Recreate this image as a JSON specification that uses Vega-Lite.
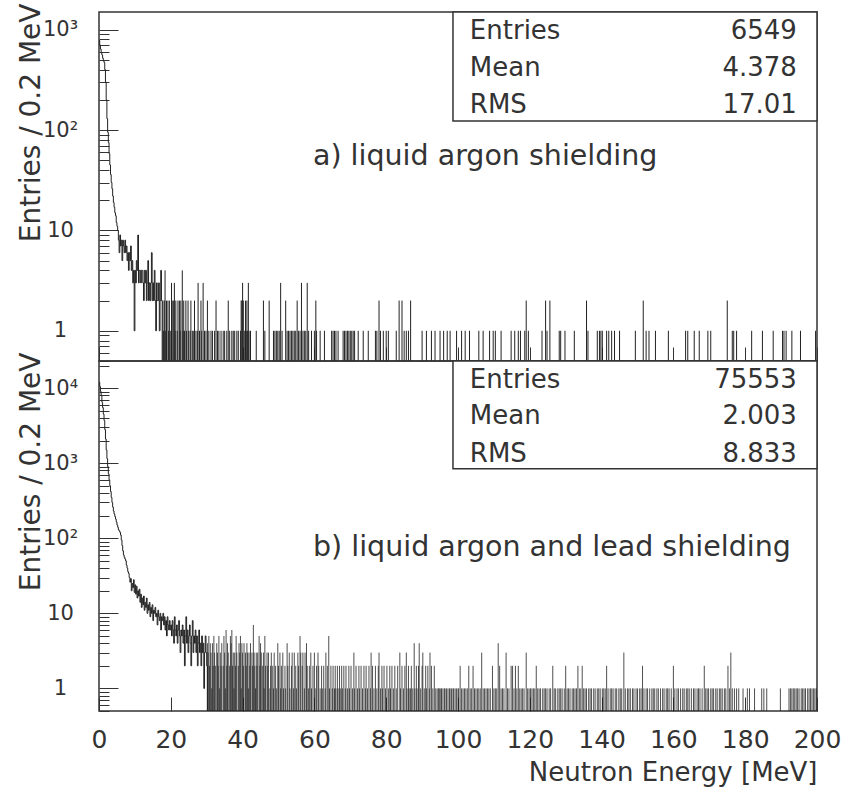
{
"$schema": "https://vega.github.io/schema/vega-lite/v6.json",
"background": "white",
"padding": {"left": 16, "top": 2, "right": 5, "bottom": 3},
"spacing": 0,
"bounds": "flush",
"config": {
 "view": {"stroke": "#333", "strokeWidth": 1.5},
 "concat": {"spacing": 0},
 "font": "DejaVu Sans",
 "axis": {"domain": false, "grid": false, "tickColor": "#333", "tickWidth": 1, "labelFont": "DejaVu Sans", "labelColor": "#333", "titleFont": "DejaVu Sans", "titleColor": "#333", "titleFontWeight": "normal", "labelFlush": false, "labelOverlap": false, "labelBound": false},
 "text": {"font": "DejaVu Sans", "color": "#333"}
},
"datasets": {
 "topStep": [
  {"e":0,"n":780},{"e":0.2,"n":700},{"e":0.4,"n":640},{"e":0.6,"n":590},{"e":0.8,"n":560},{"e":1.0,"n":520},{"e":1.2,"n":490},{"e":1.4,"n":470},{"e":1.6,"n":400},{"e":1.8,"n":300},
  {"e":2.0,"n":200},{"e":2.2,"n":130},{"e":2.4,"n":95},{"e":2.6,"n":75},{"e":2.8,"n":58},{"e":3.0,"n":45},{"e":3.2,"n":36},{"e":3.4,"n":30},{"e":3.6,"n":26},{"e":3.8,"n":22},
  {"e":4.0,"n":19},{"e":4.2,"n":17},{"e":4.4,"n":15},{"e":4.6,"n":14},{"e":4.8,"n":12},{"e":5.0,"n":11},{"e":5.2,"n":10},{"e":5.4,"n":8},{"e":5.6,"n":6},{"e":5.8,"n":9},
  {"e":6.0,"n":7},{"e":6.2,"n":8},{"e":6.4,"n":5},{"e":6.6,"n":8},{"e":6.8,"n":7},{"e":7.0,"n":6},{"e":7.2,"n":8},{"e":7.4,"n":6},{"e":7.6,"n":7},{"e":7.8,"n":5},
  {"e":8.0,"n":6},{"e":8.2,"n":4},{"e":8.4,"n":6},{"e":8.6,"n":5},{"e":8.8,"n":7},{"e":9.0,"n":4},{"e":9.2,"n":5},{"e":9.4,"n":3},{"e":9.6,"n":4},{"e":9.8,"n":1},
  {"e":10.0,"n":4},{"e":10.2,"n":3},{"e":10.4,"n":5},{"e":10.6,"n":4},{"e":10.8,"n":9},{"e":11.0,"n":3},{"e":11.2,"n":4},{"e":11.4,"n":4},{"e":11.6,"n":3},{"e":11.8,"n":4},
  {"e":12.0,"n":4},{"e":12.2,"n":3},{"e":12.4,"n":2},{"e":12.6,"n":4},{"e":12.8,"n":3},{"e":13.0,"n":4},{"e":13.2,"n":2},{"e":13.4,"n":3},{"e":13.6,"n":5},{"e":13.8,"n":2},
  {"e":14.0,"n":3},{"e":14.2,"n":2},{"e":14.4,"n":3},{"e":14.6,"n":6},{"e":14.8,"n":2},{"e":15.0,"n":3},{"e":15.2,"n":2},{"e":15.4,"n":4},{"e":15.6,"n":2},{"e":15.8,"n":1},
  {"e":16.0,"n":3},{"e":16.2,"n":2},{"e":16.4,"n":2},{"e":16.6,"n":3},{"e":16.8,"n":1},{"e":17.0,"n":2},{"e":17.2,"n":4},{"e":17.4,"n":2},{"e":17.6,"n":0}
 ],
 "topSpikes": [
  {"e":17.8,"n":2},{"e":18.0,"n":1},{"e":18.2,"n":2},{"e":18.4,"n":4},{"e":18.6,"n":1},{"e":18.8,"n":2},{"e":19.2,"n":2},{"e":19.4,"n":1},{"e":19.6,"n":2},{"e":20.0,"n":1},
  {"e":20.2,"n":3},{"e":20.4,"n":2},{"e":20.8,"n":2},{"e":21.0,"n":3},{"e":21.2,"n":1},{"e":21.4,"n":2},{"e":21.8,"n":1},{"e":22.0,"n":2},{"e":22.4,"n":2},{"e":22.6,"n":1},
  {"e":22.8,"n":2},{"e":23.2,"n":4},{"e":23.4,"n":1},{"e":23.6,"n":2},{"e":23.8,"n":1},{"e":24.2,"n":2},{"e":24.4,"n":1},{"e":24.8,"n":2},{"e":25.0,"n":1},{"e":25.4,"n":1},
  {"e":25.6,"n":2},{"e":26.0,"n":1},{"e":26.4,"n":1},{"e":26.6,"n":2},{"e":27.0,"n":1},{"e":27.4,"n":1},{"e":27.6,"n":3},{"e":28.0,"n":1},{"e":28.4,"n":2},{"e":28.6,"n":1},
  {"e":29.0,"n":3},{"e":29.4,"n":1},{"e":29.8,"n":1},{"e":30.2,"n":2},{"e":30.6,"n":1},
  {"e":31.2,"n":1},{"e":31.6,"n":1},{"e":32.2,"n":1},{"e":32.6,"n":2},{"e":33.0,"n":1},{"e":33.4,"n":1},{"e":34.0,"n":1},{"e":34.6,"n":1},{"e":35.0,"n":1},{"e":35.6,"n":1},
  {"e":36.0,"n":2},{"e":36.4,"n":1},{"e":37.0,"n":1},{"e":37.4,"n":1},{"e":37.8,"n":1},{"e":38.4,"n":1},{"e":38.8,"n":1},
  {"e":39.4,"n":1},{"e":39.6,"n":2},{"e":39.8,"n":2},{"e":40.0,"n":3},{"e":40.2,"n":2},{"e":40.6,"n":1},{"e":40.8,"n":2},{"e":41.0,"n":1},{"e":41.2,"n":2},{"e":41.4,"n":1},{"e":41.6,"n":3},{"e":41.8,"n":1},
  {"e":42.2,"n":1},{"e":43.8,"n":1},{"e":45.8,"n":2},{"e":46.2,"n":1},{"e":47.4,"n":2},{"e":48.6,"n":1},
  {"e":49.0,"n":1},{"e":49.4,"n":1},{"e":49.8,"n":1},{"e":50.2,"n":1},{"e":50.6,"n":3},{"e":51.0,"n":1},
  {"e":52.0,"n":2},{"e":52.4,"n":1},{"e":52.8,"n":1},{"e":53.2,"n":1},{"e":53.6,"n":1},{"e":54.0,"n":1},{"e":54.4,"n":1},{"e":54.8,"n":1},{"e":55.2,"n":2},{"e":55.6,"n":1},
  {"e":56.0,"n":1},{"e":56.4,"n":3},{"e":56.8,"n":1},{"e":57.2,"n":1},{"e":57.6,"n":1},{"e":58.0,"n":3},{"e":58.4,"n":1},{"e":59.2,"n":1},{"e":60.0,"n":1},{"e":60.4,"n":2},
  {"e":60.6,"n":1},{"e":61.6,"n":1},{"e":62.8,"n":1},
  {"e":64.8,"n":1},{"e":65.2,"n":1},{"e":65.6,"n":1},{"e":66.0,"n":1},{"e":66.6,"n":1},
  {"e":68.0,"n":1},{"e":68.4,"n":1},{"e":68.8,"n":1},{"e":69.2,"n":1},{"e":69.6,"n":1},{"e":70.0,"n":1},{"e":70.4,"n":1},{"e":70.8,"n":1},{"e":71.2,"n":1},
  {"e":72.2,"n":1},{"e":73.6,"n":1},{"e":75.0,"n":1},
  {"e":77.0,"n":1},{"e":77.4,"n":1},{"e":78.0,"n":2},{"e":78.4,"n":1},{"e":79.2,"n":1},{"e":80.0,"n":1},{"e":80.6,"n":1},
  {"e":82.8,"n":1},{"e":83.6,"n":2},{"e":84.4,"n":2},{"e":85.0,"n":1},{"e":85.6,"n":1},{"e":86.2,"n":1},{"e":86.8,"n":2},
  {"e":90.0,"n":1},{"e":91.2,"n":1},{"e":92.6,"n":1},{"e":93.6,"n":1},{"e":95.0,"n":1},{"e":96.0,"n":1},{"e":97.0,"n":1},{"e":97.8,"n":1},
  {"e":99.6,"n":1},{"e":101.0,"n":1},{"e":102.0,"n":1},{"e":103.2,"n":1},
  {"e":105.8,"n":1},{"e":107.0,"n":1},{"e":108.8,"n":1},{"e":109.8,"n":1},{"e":110.4,"n":1},
  {"e":112.0,"n":1},{"e":114.8,"n":1},{"e":115.8,"n":1},{"e":116.8,"n":1},{"e":117.4,"n":1},{"e":118.6,"n":1},{"e":119.0,"n":2},{"e":119.6,"n":1},
  {"e":123.4,"n":1},{"e":124.4,"n":2},{"e":124.8,"n":1},{"e":125.6,"n":2},{"e":128.2,"n":1},{"e":128.6,"n":1},{"e":129.8,"n":1},{"e":132.4,"n":1},{"e":135.8,"n":2},{"e":136.2,"n":1},
  {"e":138.8,"n":1},{"e":139.4,"n":1},{"e":139.8,"n":1},{"e":140.2,"n":1},{"e":141.4,"n":1},{"e":142.0,"n":1},{"e":142.8,"n":1},{"e":143.6,"n":1},{"e":145.0,"n":1},
  {"e":149.4,"n":1},{"e":151.6,"n":2},{"e":152.4,"n":1},{"e":153.2,"n":1},{"e":155.0,"n":1},{"e":158.6,"n":1},{"e":163.4,"n":1},{"e":164.0,"n":1},{"e":165.8,"n":1},{"e":167.2,"n":1},
  {"e":169.6,"n":1},{"e":170.4,"n":1},{"e":175.0,"n":2},{"e":176.4,"n":1},{"e":176.8,"n":1},{"e":177.6,"n":1},{"e":181.8,"n":1},{"e":184.8,"n":1},{"e":187.8,"n":1},
  {"e":190.4,"n":1},{"e":190.8,"n":1},{"e":191.4,"n":1},{"e":193.0,"n":1},{"e":195.4,"n":1},{"e":199.6,"n":1}
 ],
 "botStep": [
  {"e":0,"n":12000},{"e":0.2,"n":10500},{"e":0.4,"n":9000},{"e":0.6,"n":8000},{"e":0.8,"n":6500},{"e":1.0,"n":5500},{"e":1.2,"n":4500},{"e":1.4,"n":3700},{"e":1.6,"n":2800},{"e":1.8,"n":2100},
  {"e":2.0,"n":1500},{"e":2.2,"n":1150},{"e":2.4,"n":900},{"e":2.6,"n":720},{"e":2.8,"n":600},{"e":3.0,"n":500},{"e":3.2,"n":420},{"e":3.4,"n":350},{"e":3.6,"n":300},{"e":3.8,"n":260},
  {"e":4.0,"n":230},{"e":4.2,"n":210},{"e":4.4,"n":195},{"e":4.6,"n":180},{"e":4.8,"n":165},{"e":5.0,"n":150},{"e":5.2,"n":140},{"e":5.4,"n":130},{"e":5.6,"n":125},{"e":5.8,"n":120},
  {"e":6.0,"n":110},{"e":6.2,"n":95},{"e":6.4,"n":80},{"e":6.6,"n":68},{"e":6.8,"n":60},{"e":7.0,"n":56},{"e":7.2,"n":53},{"e":7.4,"n":50},{"e":7.6,"n":44},{"e":7.8,"n":40},
  {"e":8.0,"n":36},{"e":8.2,"n":34},{"e":8.4,"n":30},{"e":8.6,"n":26},{"e":8.8,"n":29},{"e":9.0,"n":20},{"e":9.2,"n":25},{"e":9.4,"n":22},{"e":9.6,"n":28},{"e":9.8,"n":19},
  {"e":10.0,"n":24},{"e":10.2,"n":18},{"e":10.4,"n":23},{"e":10.6,"n":16},{"e":10.8,"n":20},{"e":11.0,"n":17},{"e":11.2,"n":21},{"e":11.4,"n":14},{"e":11.6,"n":18},{"e":11.8,"n":12},
  {"e":12.0,"n":16},{"e":12.2,"n":13},{"e":12.4,"n":17},{"e":12.6,"n":11},{"e":12.8,"n":14},{"e":13.0,"n":12},{"e":13.2,"n":16},{"e":13.4,"n":10},{"e":13.6,"n":13},{"e":13.8,"n":11},
  {"e":14.0,"n":14},{"e":14.2,"n":9},{"e":14.4,"n":12},{"e":14.6,"n":10},{"e":14.8,"n":13},{"e":15.0,"n":8},{"e":15.2,"n":11},{"e":15.4,"n":10},{"e":15.6,"n":12},{"e":15.8,"n":9},
  {"e":16.0,"n":10},{"e":16.2,"n":7},{"e":16.4,"n":11},{"e":16.6,"n":9},{"e":16.8,"n":8},{"e":17.0,"n":10},{"e":17.2,"n":6},{"e":17.4,"n":9},{"e":17.6,"n":8},{"e":17.8,"n":10},
  {"e":18.0,"n":7},{"e":18.2,"n":9},{"e":18.4,"n":6},{"e":18.6,"n":8},{"e":18.8,"n":5},{"e":19.0,"n":9},{"e":19.2,"n":7},{"e":19.4,"n":6},{"e":19.6,"n":8},{"e":19.8,"n":6},
  {"e":20.0,"n":7},{"e":20.2,"n":5},{"e":20.4,"n":8},{"e":20.6,"n":6},{"e":20.8,"n":4},{"e":21.0,"n":9},{"e":21.2,"n":6},{"e":21.4,"n":5},{"e":21.6,"n":7},{"e":21.8,"n":4},
  {"e":22.0,"n":6},{"e":22.2,"n":8},{"e":22.4,"n":5},{"e":22.6,"n":3},{"e":22.8,"n":6},{"e":23.0,"n":5},{"e":23.2,"n":7},{"e":23.4,"n":4},{"e":23.6,"n":6},{"e":23.8,"n":2},
  {"e":24.0,"n":5},{"e":24.2,"n":9},{"e":24.4,"n":4},{"e":24.6,"n":6},{"e":24.8,"n":3},{"e":25.0,"n":5},{"e":25.2,"n":7},{"e":25.4,"n":4},{"e":25.6,"n":2},{"e":25.8,"n":5},
  {"e":26.0,"n":8},{"e":26.2,"n":3},{"e":26.4,"n":5},{"e":26.6,"n":4},{"e":26.8,"n":6},{"e":27.0,"n":3},{"e":27.2,"n":5},{"e":27.4,"n":2},{"e":27.6,"n":4},{"e":27.8,"n":6},
  {"e":28.0,"n":3},{"e":28.2,"n":4},{"e":28.4,"n":2},{"e":28.6,"n":5},{"e":28.8,"n":3},{"e":29.0,"n":4},{"e":29.2,"n":1},{"e":29.4,"n":3},{"e":29.6,"n":5},{"e":29.8,"n":3},
  {"e":30.0,"n":2},{"e":30.2,"n":0}
 ],
 "botSpikes": [
  {"e":30.2,"n":4},{"e":30.4,"n":3},{"e":30.6,"n":5},{"e":30.8,"n":2},{"e":31.0,"n":4},{"e":31.2,"n":3},{"e":31.4,"n":1},{"e":31.6,"n":4},{"e":31.8,"n":2},{"e":32.0,"n":5},
  {"e":32.2,"n":3},{"e":32.4,"n":2},{"e":32.8,"n":4},{"e":33.0,"n":3},{"e":33.2,"n":2},{"e":33.4,"n":5},{"e":33.6,"n":1},{"e":33.8,"n":3},{"e":34.0,"n":2},{"e":34.2,"n":4},
  {"e":34.6,"n":2},{"e":34.8,"n":5},{"e":35.0,"n":3},{"e":35.2,"n":1},{"e":35.4,"n":6},{"e":35.6,"n":2},{"e":35.8,"n":4},{"e":36.0,"n":3},{"e":36.4,"n":2},{"e":36.6,"n":5},
  {"e":36.8,"n":4},{"e":37.0,"n":6},{"e":37.2,"n":2},{"e":37.4,"n":3},{"e":37.6,"n":1},{"e":37.8,"n":3},{"e":38.0,"n":2},{"e":38.2,"n":5},{"e":38.4,"n":3},{"e":38.8,"n":2},
  {"e":39.0,"n":4},{"e":39.2,"n":3},{"e":39.4,"n":5},{"e":39.6,"n":1},{"e":39.8,"n":4},{"e":40.0,"n":3},{"e":40.2,"n":2},{"e":40.4,"n":4},{"e":40.8,"n":3},{"e":41.0,"n":2},
  {"e":41.2,"n":4},{"e":41.4,"n":3},{"e":41.6,"n":1},{"e":41.8,"n":3},{"e":42.0,"n":2},{"e":42.2,"n":4},{"e":42.6,"n":3},{"e":42.8,"n":2},{"e":43.0,"n":7},{"e":43.2,"n":3},
  {"e":43.4,"n":2},{"e":43.6,"n":1},{"e":43.8,"n":3},{"e":44.0,"n":2},{"e":44.2,"n":3},{"e":44.6,"n":5},{"e":44.8,"n":2},{"e":45.0,"n":4},{"e":45.2,"n":3},{"e":45.6,"n":2},
  {"e":45.8,"n":3},{"e":46.0,"n":1},{"e":46.2,"n":5},{"e":46.4,"n":2},{"e":46.8,"n":3},
  {"e":47.0,"n":2},{"e":47.2,"n":3},{"e":47.6,"n":1},{"e":47.8,"n":2},{"e":48.0,"n":3},{"e":48.4,"n":2},{"e":48.6,"n":1},{"e":48.8,"n":3},{"e":49.2,"n":2},{"e":49.4,"n":1},
  {"e":49.8,"n":4},{"e":50.0,"n":2},{"e":50.4,"n":3},{"e":50.6,"n":1},{"e":50.8,"n":2},{"e":51.2,"n":3},{"e":51.4,"n":1},{"e":51.8,"n":2},{"e":52.0,"n":1},{"e":52.4,"n":4},
  {"e":52.6,"n":2},{"e":53.0,"n":3},{"e":53.2,"n":1},{"e":53.6,"n":2},{"e":53.8,"n":3},{"e":54.2,"n":1},{"e":54.4,"n":3},{"e":54.8,"n":2},{"e":55.0,"n":1},{"e":55.4,"n":3},
  {"e":55.6,"n":2},{"e":56.0,"n":5},{"e":56.2,"n":3},{"e":56.6,"n":2},{"e":56.8,"n":3},{"e":57.2,"n":1},{"e":57.4,"n":3},{"e":57.8,"n":4},{"e":58.0,"n":2},{"e":58.4,"n":1},
  {"e":58.6,"n":2},{"e":59.0,"n":3},{"e":59.2,"n":1},{"e":59.6,"n":2},{"e":60.0,"n":3},{"e":60.2,"n":1},{"e":60.6,"n":2},{"e":61.0,"n":3},{"e":61.2,"n":2},{"e":61.6,"n":1},
  {"e":62.0,"n":2},{"e":62.2,"n":1},{"e":62.6,"n":2},{"e":63.0,"n":1},{"e":63.2,"n":3},{"e":63.6,"n":2},{"e":64.0,"n":5},{"e":64.2,"n":1},
  {"e":64.6,"n":2},{"e":65.0,"n":1},{"e":65.2,"n":2},{"e":65.6,"n":1},{"e":65.8,"n":2},{"e":66.0,"n":1},{"e":66.4,"n":2},{"e":66.6,"n":1},{"e":67.0,"n":2},{"e":67.2,"n":1},
  {"e":67.6,"n":2},{"e":67.8,"n":1},{"e":68.2,"n":2},{"e":68.6,"n":1},{"e":68.8,"n":2},{"e":69.2,"n":1},{"e":69.6,"n":2},{"e":69.8,"n":1},{"e":70.2,"n":2},{"e":70.6,"n":1},
  {"e":71.0,"n":3},{"e":71.2,"n":1},{"e":71.6,"n":2},{"e":72.0,"n":1},{"e":72.4,"n":2},{"e":72.6,"n":1},{"e":73.0,"n":2},{"e":73.4,"n":1},{"e":73.8,"n":2},{"e":74.2,"n":1},
  {"e":74.4,"n":2},{"e":74.8,"n":1},{"e":75.2,"n":2},{"e":75.6,"n":1},{"e":75.8,"n":3},{"e":76.2,"n":2},{"e":76.6,"n":1},{"e":77.0,"n":2},{"e":77.4,"n":1},{"e":77.8,"n":2},
  {"e":78.0,"n":3},{"e":78.4,"n":1},{"e":78.8,"n":2},{"e":79.0,"n":1},{"e":79.4,"n":2},{"e":79.8,"n":1},{"e":80.2,"n":2},{"e":80.6,"n":1},{"e":81.0,"n":2},{"e":81.2,"n":1},
  {"e":81.6,"n":2},{"e":82.0,"n":1},{"e":82.4,"n":2},{"e":82.8,"n":1},{"e":83.2,"n":2},{"e":83.8,"n":3},{"e":84.0,"n":1},{"e":84.4,"n":2},{"e":84.8,"n":1},{"e":85.2,"n":2},
  {"e":85.6,"n":3},{"e":85.8,"n":1},{"e":86.2,"n":2},{"e":86.4,"n":1},
  {"e":86.8,"n":1},{"e":87.0,"n":2},{"e":87.4,"n":1},{"e":87.8,"n":4},{"e":88.0,"n":1},{"e":88.4,"n":2},{"e":88.6,"n":1},{"e":89.0,"n":2},{"e":89.2,"n":4},{"e":89.6,"n":1},
  {"e":90.0,"n":2},{"e":90.2,"n":3},{"e":90.6,"n":1},{"e":91.0,"n":2},{"e":91.2,"n":1},{"e":91.6,"n":2},{"e":92.0,"n":1},{"e":92.2,"n":3},{"e":92.6,"n":2},{"e":93.0,"n":1},
  {"e":93.4,"n":2},{"e":93.8,"n":1},
  {"e":94.2,"n":1},{"e":94.6,"n":1},{"e":94.8,"n":1},{"e":95.2,"n":1},{"e":95.4,"n":1},{"e":95.8,"n":1},{"e":96.2,"n":1},{"e":96.4,"n":1},{"e":96.8,"n":1},{"e":97.2,"n":1},
  {"e":97.6,"n":1},{"e":97.8,"n":1},{"e":98.2,"n":1},{"e":98.6,"n":1},{"e":98.8,"n":1},{"e":99.2,"n":1},{"e":99.6,"n":1},{"e":100.0,"n":1},{"e":100.2,"n":1},
  {"e":100.6,"n":2},{"e":101.0,"n":1},{"e":101.4,"n":1},{"e":101.8,"n":1},{"e":102.2,"n":1},{"e":102.6,"n":1},{"e":103.0,"n":2},{"e":103.4,"n":1},{"e":103.8,"n":1},{"e":104.2,"n":2},
  {"e":104.6,"n":1},{"e":105.0,"n":1},{"e":105.4,"n":1},{"e":105.8,"n":1},{"e":106.2,"n":1},{"e":106.6,"n":3},{"e":107.0,"n":1},{"e":107.4,"n":1},{"e":107.8,"n":1},{"e":108.2,"n":1},
  {"e":108.6,"n":1},{"e":109.0,"n":1},{"e":109.6,"n":2},{"e":110.0,"n":1},{"e":110.4,"n":1},{"e":110.8,"n":1},{"e":111.2,"n":4},{"e":111.6,"n":2},{"e":112.0,"n":1},{"e":112.4,"n":1},
  {"e":112.8,"n":1},{"e":113.4,"n":3},{"e":113.8,"n":1},{"e":114.2,"n":1},{"e":114.8,"n":2},{"e":115.2,"n":2},{"e":115.6,"n":1},{"e":116.0,"n":2},{"e":116.4,"n":1},{"e":116.8,"n":2},
  {"e":117.2,"n":1},{"e":117.6,"n":1},{"e":118.0,"n":1},{"e":118.4,"n":1},{"e":119.0,"n":3},{"e":119.4,"n":1},{"e":119.8,"n":1},{"e":120.2,"n":1},{"e":120.6,"n":1},{"e":121.0,"n":1},
  {"e":121.4,"n":1},{"e":121.8,"n":2},{"e":122.2,"n":1},{"e":122.6,"n":1},{"e":123.0,"n":1},{"e":123.6,"n":1},{"e":124.0,"n":1},{"e":124.4,"n":1},{"e":124.8,"n":1},{"e":125.4,"n":1},
  {"e":125.8,"n":1},{"e":126.4,"n":2},{"e":126.8,"n":1},{"e":127.2,"n":1},{"e":127.8,"n":1},{"e":128.2,"n":1},{"e":128.6,"n":1},{"e":129.0,"n":1},{"e":129.6,"n":1},{"e":130.0,"n":2},
  {"e":130.4,"n":1},{"e":130.8,"n":1},{"e":131.2,"n":1},{"e":131.8,"n":1},{"e":132.2,"n":1},{"e":132.6,"n":1},{"e":133.0,"n":1},{"e":133.4,"n":2},{"e":133.8,"n":1},{"e":134.2,"n":1},
  {"e":134.6,"n":2},{"e":135.0,"n":1},{"e":135.4,"n":1},{"e":135.8,"n":1},{"e":136.4,"n":1},{"e":136.8,"n":1},{"e":137.2,"n":1},{"e":137.8,"n":1},{"e":138.2,"n":1},{"e":138.8,"n":1},
  {"e":139.2,"n":1},{"e":139.6,"n":1},{"e":140.2,"n":1},{"e":140.6,"n":1},{"e":141.0,"n":1},{"e":141.4,"n":2},{"e":141.8,"n":1},{"e":142.4,"n":1},{"e":142.8,"n":1},{"e":143.2,"n":1},
  {"e":143.8,"n":1},{"e":144.2,"n":1},{"e":144.8,"n":1},{"e":145.2,"n":1},{"e":145.6,"n":1},{"e":146.2,"n":3},{"e":146.6,"n":1},{"e":147.2,"n":1},{"e":147.6,"n":1},{"e":148.0,"n":1},
  {"e":148.6,"n":1},{"e":149.0,"n":1},{"e":149.6,"n":1},{"e":150.0,"n":1},{"e":150.6,"n":1},{"e":151.0,"n":1},{"e":151.4,"n":2},{"e":151.8,"n":1},{"e":152.4,"n":1},{"e":152.8,"n":1},
  {"e":153.4,"n":1},{"e":154.0,"n":1},{"e":154.4,"n":1},{"e":154.8,"n":1},{"e":155.4,"n":1},{"e":155.8,"n":1},{"e":156.4,"n":1},{"e":157.0,"n":1},{"e":157.4,"n":1},{"e":158.0,"n":1},
  {"e":158.4,"n":1},{"e":158.8,"n":1},{"e":159.4,"n":1},{"e":160.0,"n":2},{"e":160.4,"n":1},{"e":161.0,"n":1},{"e":161.4,"n":1},{"e":162.0,"n":1},{"e":162.6,"n":1},{"e":163.0,"n":1},
  {"e":163.6,"n":1},{"e":164.0,"n":1},{"e":164.4,"n":1},{"e":165.0,"n":1},{"e":165.6,"n":1},{"e":166.0,"n":1},{"e":166.6,"n":1},{"e":167.0,"n":1},{"e":167.4,"n":1},{"e":168.0,"n":1},
  {"e":168.6,"n":2},{"e":169.0,"n":1},{"e":169.4,"n":1},{"e":169.8,"n":1},{"e":170.4,"n":1},{"e":170.8,"n":1},{"e":171.2,"n":1},{"e":171.8,"n":1},{"e":172.2,"n":1},{"e":172.8,"n":1},
  {"e":173.2,"n":1},{"e":173.6,"n":1},{"e":174.2,"n":1},{"e":174.6,"n":1},{"e":175.2,"n":2},{"e":175.6,"n":1},{"e":176.0,"n":3},{"e":176.4,"n":1},{"e":177.0,"n":1},{"e":177.6,"n":1},
  {"e":178.2,"n":1},{"e":179.4,"n":1},{"e":180.6,"n":1},{"e":181.2,"n":1},{"e":182.6,"n":1},{"e":184.6,"n":1},{"e":185.2,"n":1},{"e":186.0,"n":1},{"e":189.8,"n":1},
  {"e":192.2,"n":1},{"e":192.6,"n":1},{"e":193.0,"n":1},{"e":193.4,"n":1},{"e":193.8,"n":1},{"e":194.2,"n":1},{"e":194.6,"n":1},{"e":195.0,"n":1},{"e":195.6,"n":1},{"e":196.0,"n":1},
  {"e":196.4,"n":1},{"e":196.8,"n":1},{"e":197.4,"n":1},{"e":197.8,"n":1},{"e":198.2,"n":1},{"e":198.6,"n":1},{"e":199.0,"n":1},{"e":199.4,"n":1},{"e":199.8,"n":1}
 ]
},
"vconcat": [
 {
  "width": 718, "height": 349,
  "layer": [
   {"data": {"name": "topStep"}, "mark": {"type": "line", "interpolate": "step-after", "stroke": "#222", "strokeWidth": 1},
    "encoding": {
     "x": {"field": "e", "type": "quantitative", "scale": {"domain": [0, 200], "nice": false, "zero": false},
       "axis": {"values": [0,5,10,15,20,25,30,35,40,45,50,55,60,65,70,75,80,85,90,95,100,105,110,115,120,125,130,135,140,145,150,155,160,165,170,175,180,185,190,195,200], "labels": false, "title": null, "tickSize": {"condition": {"test": "datum.value % 20 == 0", "value": -14}, "value": -8}}},
     "y": {"field": "n", "type": "quantitative", "scale": {"type": "log", "domain": [0.5, 1500], "nice": false, "clamp": true},
       "axis": {"values": [0.5,0.6,0.7,0.8,0.9,1,2,3,4,5,6,7,8,9,10,20,30,40,50,60,70,80,90,100,200,300,400,500,600,700,800,900,1000],
         "labelExpr": "datum.value == 1 ? '1' : datum.value == 10 ? '10' : datum.value == 100 ? '10²' : datum.value == 1000 ? '10³' : datum.value == 10000 ? '10⁴' : ''",
         "labelFontSize": 21, "labelAlign": "center", "labelBaseline": "middle", "labelPadding": 58,
         "title": "Entries / 0.2 MeV", "titleAnchor": "end", "titleAlign": "right", "titleY": -9, "titleFontSize": 28, "titlePadding": -3,
         "tickSize": {"condition": {"test": "datum.value == 1 || datum.value == 10 || datum.value == 100 || datum.value == 1000 || datum.value == 10000", "value": -19}, "value": -10}}}
    }},
   {"data": {"name": "topSpikes"}, "mark": {"type": "rule", "stroke": "#222", "strokeWidth": 1},
    "encoding": {
     "x": {"field": "e", "type": "quantitative", "scale": {"domain": [0, 200], "nice": false, "zero": false}},
     "y": {"field": "n", "type": "quantitative", "scale": {"type": "log", "domain": [0.5, 1500], "nice": false, "clamp": true}},
     "y2": {"datum": 0.5}}},
   {"data": {"values": [{"box": "stats"}]}, "mark": {"type": "rect", "fill": "white", "stroke": "#333", "strokeWidth": 1.5},
    "encoding": {"x": {"datum": 98.6}, "x2": {"datum": 200}, "y": {"datum": 123}, "y2": {"datum": 1500}}},
   {"data": {"values": [{"k": "Entries", "v": "6549"}]}, "encoding": {"y": {"datum": 977}},
    "layer": [
     {"mark": {"type": "text", "align": "left", "baseline": "middle", "fontSize": 26}, "encoding": {"x": {"datum": 103.3}, "text": {"field": "k"}}},
     {"mark": {"type": "text", "align": "right", "baseline": "middle", "fontSize": 26}, "encoding": {"x": {"datum": 194.4}, "text": {"field": "v"}}}
    ]},
   {"data": {"values": [{"k": "Mean", "v": "4.378"}]}, "encoding": {"y": {"datum": 417}},
    "layer": [
     {"mark": {"type": "text", "align": "left", "baseline": "middle", "fontSize": 26}, "encoding": {"x": {"datum": 103.3}, "text": {"field": "k"}}},
     {"mark": {"type": "text", "align": "right", "baseline": "middle", "fontSize": 26}, "encoding": {"x": {"datum": 194.4}, "text": {"field": "v"}}}
    ]},
   {"data": {"values": [{"k": "RMS", "v": "17.01"}]}, "encoding": {"y": {"datum": 178}},
    "layer": [
     {"mark": {"type": "text", "align": "left", "baseline": "middle", "fontSize": 26}, "encoding": {"x": {"datum": 103.3}, "text": {"field": "k"}}},
     {"mark": {"type": "text", "align": "right", "baseline": "middle", "fontSize": 26}, "encoding": {"x": {"datum": 194.4}, "text": {"field": "v"}}}
    ]},
   {"data": {"values": [{"t": "a) liquid argon shielding"}]}, "mark": {"type": "text", "align": "left", "baseline": "middle", "fontSize": 28.5},
    "encoding": {"x": {"datum": 59.6}, "y": {"datum": 55}, "text": {"field": "t"}}}
  ]
 },
 {
  "width": 718, "height": 350,
  "layer": [
   {"data": {"name": "botStep"}, "mark": {"type": "line", "interpolate": "step-after", "stroke": "#222", "strokeWidth": 1},
    "encoding": {
     "x": {"field": "e", "type": "quantitative", "scale": {"domain": [0, 200], "nice": false, "zero": false},
       "axis": {"values": [0,5,10,15,20,25,30,35,40,45,50,55,60,65,70,75,80,85,90,95,100,105,110,115,120,125,130,135,140,145,150,155,160,165,170,175,180,185,190,195,200],
         "labelExpr": "datum.value % 20 == 0 ? datum.label : ''", "labelFontSize": 25, "labelPadding": 30,
         "title": "Neutron Energy [MeV]", "titleAnchor": "end", "titleFontSize": 26, "titlePadding": 7,
         "tickSize": {"condition": {"test": "datum.value % 20 == 0", "value": -14}, "value": -8}}},
     "y": {"field": "n", "type": "quantitative", "scale": {"type": "log", "domain": [0.5, 23000], "nice": false, "clamp": true},
       "axis": {"values": [0.5,0.6,0.7,0.8,0.9,1,2,3,4,5,6,7,8,9,10,20,30,40,50,60,70,80,90,100,200,300,400,500,600,700,800,900,1000,2000,3000,4000,5000,6000,7000,8000,9000,10000,20000],
         "labelExpr": "datum.value == 1 ? '1' : datum.value == 10 ? '10' : datum.value == 100 ? '10²' : datum.value == 1000 ? '10³' : datum.value == 10000 ? '10⁴' : ''",
         "labelFontSize": 21, "labelAlign": "center", "labelBaseline": "middle", "labelPadding": 58,
         "title": "Entries / 0.2 MeV", "titleAnchor": "end", "titleAlign": "right", "titleY": -9, "titleFontSize": 28, "titlePadding": -3,
         "tickSize": {"condition": {"test": "datum.value == 1 || datum.value == 10 || datum.value == 100 || datum.value == 1000 || datum.value == 10000", "value": -19}, "value": -10}}}
    }},
   {"data": {"name": "botSpikes"}, "mark": {"type": "rule", "stroke": "#222", "strokeWidth": 0.8},
    "encoding": {
     "x": {"field": "e", "type": "quantitative", "scale": {"domain": [0, 200], "nice": false, "zero": false}},
     "y": {"field": "n", "type": "quantitative", "scale": {"type": "log", "domain": [0.5, 23000], "nice": false, "clamp": true}},
     "y2": {"datum": 0.5}}},
   {"data": {"values": [{"box": "stats"}]}, "mark": {"type": "rect", "fill": "white", "stroke": "#333", "strokeWidth": 1.5},
    "encoding": {"x": {"datum": 98.6}, "x2": {"datum": 200}, "y": {"datum": 844}, "y2": {"datum": 23000}}},
   {"data": {"values": [{"k": "Entries", "v": "75553"}]}, "encoding": {"y": {"datum": 12850}},
    "layer": [
     {"mark": {"type": "text", "align": "left", "baseline": "middle", "fontSize": 26}, "encoding": {"x": {"datum": 103.3}, "text": {"field": "k"}}},
     {"mark": {"type": "text", "align": "right", "baseline": "middle", "fontSize": 26}, "encoding": {"x": {"datum": 194.4}, "text": {"field": "v"}}}
    ]},
   {"data": {"values": [{"k": "Mean", "v": "2.003"}]}, "encoding": {"y": {"datum": 4220}},
    "layer": [
     {"mark": {"type": "text", "align": "left", "baseline": "middle", "fontSize": 26}, "encoding": {"x": {"datum": 103.3}, "text": {"field": "k"}}},
     {"mark": {"type": "text", "align": "right", "baseline": "middle", "fontSize": 26}, "encoding": {"x": {"datum": 194.4}, "text": {"field": "v"}}}
    ]},
   {"data": {"values": [{"k": "RMS", "v": "8.833"}]}, "encoding": {"y": {"datum": 1343}},
    "layer": [
     {"mark": {"type": "text", "align": "left", "baseline": "middle", "fontSize": 26}, "encoding": {"x": {"datum": 103.3}, "text": {"field": "k"}}},
     {"mark": {"type": "text", "align": "right", "baseline": "middle", "fontSize": 26}, "encoding": {"x": {"datum": 194.4}, "text": {"field": "v"}}}
    ]},
   {"data": {"values": [{"t": "b) liquid argon and lead shielding"}]}, "mark": {"type": "text", "align": "left", "baseline": "middle", "fontSize": 28.5},
    "encoding": {"x": {"datum": 59.6}, "y": {"datum": 75.5}, "text": {"field": "t"}}}
  ]
 }
]
}
